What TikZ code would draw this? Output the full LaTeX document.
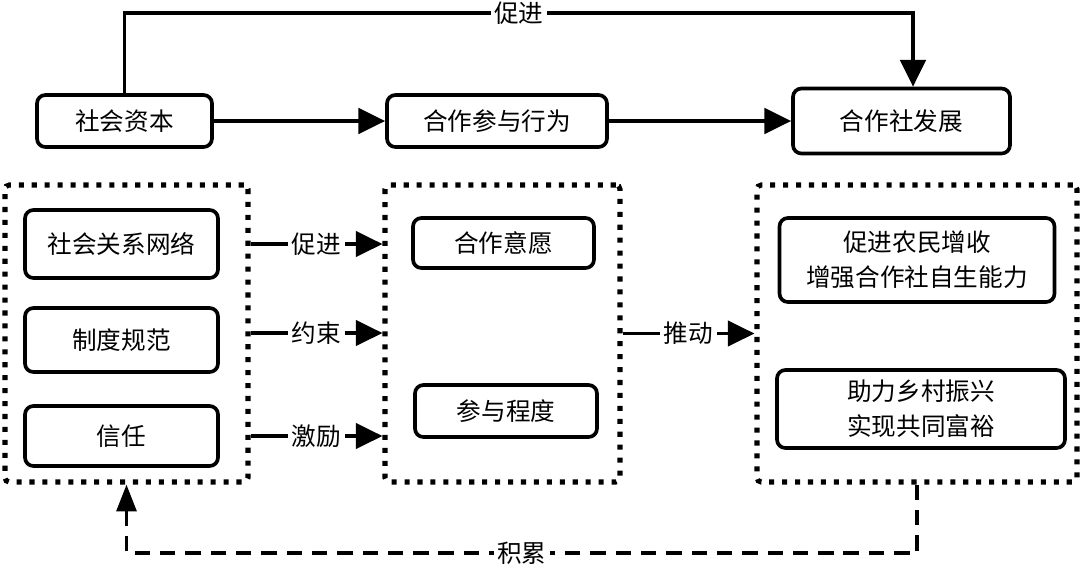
\documentclass[tikz,border=0pt]{standalone}
\usepackage{fontspec}
\setmainfont{Noto Sans CJK SC}
\usetikzlibrary{arrows.meta,positioning,calc}
\newcommand{\pxu}{0.025cm}

\begin{document}
\begin{tikzpicture}[x=\pxu,y=-\pxu,
    font=\fontsize{17.5}{25}\selectfont,
    box/.style={draw,line width=2.6pt,rounded corners=6pt,inner sep=0pt,align=center},
    group/.style={draw,line width=3.6pt,dash pattern=on 3.6pt off 5.6pt,rounded corners=3pt,inner sep=0pt},
    arr/.style={line width=2.6pt,-{Triangle[length=19pt,width=18pt]}},
    fb/.style={line width=2.6pt,dash pattern=on 11pt off 7pt,-{Triangle[length=19pt,width=14pt]}},
    lbl/.style={fill=white,inner sep=2.5pt}]
    \useasboundingbox (0,0) rectangle (1080,575);

    % Top row
    \node[box,minimum width=175*\pxu,minimum height=52*\pxu] (sc) at (124.5,121) {社会资本};
    \node[box,minimum width=220*\pxu,minimum height=52*\pxu] (act) at (497,121) {合作参与行为};
    \node[box,minimum width=217*\pxu,minimum height=65*\pxu] (dev) at (901.5,121) {合作社发展};

    \draw[arr] (sc) -- (act);
    \draw[arr] (act) -- (dev);
    \draw[arr] (sc.north) -- (sc.north |- 0,13) -| ([xshift=11.5*\pxu]dev.north) node[lbl,pos=0.25] {促进};

    % Dotted groups
    \node[group,minimum width=243*\pxu,minimum height=297*\pxu] (lc) at (126.5,333.5) {};
    \node[group,minimum width=235*\pxu,minimum height=297*\pxu] (mc) at (502.5,333.5) {};
    \node[group,minimum width=320*\pxu,minimum height=297*\pxu] (rc) at (917,333.5) {};

    % Social capital
    \node[box,minimum width=193*\pxu,minimum height=68*\pxu] (net) at (121.5,244) {社会关系网络};
    \node[box,minimum width=193*\pxu,minimum height=64*\pxu] (norm) at (121.5,340) {制度规范};
    \node[box,minimum width=193*\pxu,minimum height=60*\pxu] (trust) at (121.5,436) {信任};

    % Participation
    \node[box,minimum width=181*\pxu,minimum height=50*\pxu] (will) at (503.5,243) {合作意愿};
    \node[box,minimum width=182*\pxu,minimum height=52*\pxu] (degree) at (506,411) {参与程度};

    % Development
    \node[box,minimum width=275*\pxu,minimum height=84*\pxu] (income) at (917,260) {促进农民增收\\增强合作社自生能力};
    \node[box,minimum width=288*\pxu,minimum height=78*\pxu] (rural) at (921,409) {助力乡村振兴\\实现共同富裕};

    \draw[arr] (lc.east |- net) -- (mc.west |- net) node[lbl,midway] {促进};
    \draw[arr] (lc.east |- 0,333) -- (mc.west |- 0,333) node[lbl,midway] {约束};
    \draw[arr] (lc.east |- trust) -- (mc.west |- trust) node[lbl,midway] {激励};
    \draw[arr] (mc.east) -- (rc.west) node[lbl,midway] {推动};

    % Feedback
    \draw[fb] (rc.south) -- (rc.south |- 0,553) -| (lc.south) node[lbl,pos=0.25] {积累};
\end{tikzpicture}
\end{document}
